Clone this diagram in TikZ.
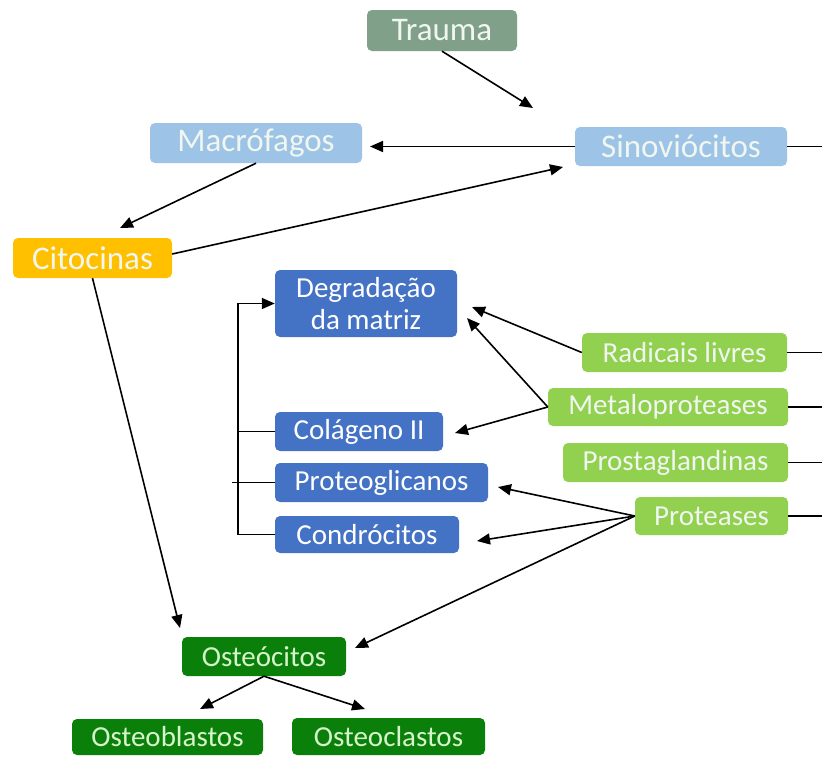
\documentclass[tikz,border=0pt]{standalone}
\usepackage{fontspec}
\setmainfont{Carlito}
\usetikzlibrary{arrows.meta,calc}
\definecolor{traumac}{RGB}{128,160,137}
\definecolor{lblue}{RGB}{157,195,230}
\definecolor{orangec}{RGB}{255,192,0}
\definecolor{dblue}{RGB}{68,114,196}
\definecolor{lgreen}{RGB}{146,208,80}
\definecolor{dgreen}{RGB}{10,128,10}
\definecolor{paletext}{RGB}{240,246,240}
\definecolor{palegreentext}{RGB}{215,245,205}
\tikzset{
  box/.style={rectangle, rounded corners=5pt, inner sep=0pt, draw=none, align=center},
  bigtxt/.style={font=\fontsize{33}{35}\selectfont},
  smalltxt/.style={font=\fontsize{29}{32}\selectfont},
  arr/.style={line width=1.6pt, -{Triangle[length=13pt,width=11pt]}},
  ln/.style={line width=1.6pt},
}
\begin{document}
\begin{tikzpicture}[x=1pt,y=-1pt]
\useasboundingbox (0,0) rectangle (822,756);
\fill[white] (0,0) rectangle (822,756);
% nodes
\node[box,bigtxt,fill=traumac,text=paletext,minimum width=150pt,minimum height=41pt] (trauma) at (442,30.5) {Trauma};
\node[box,bigtxt,fill=lblue,text=paletext,minimum width=212pt,minimum height=39pt] (sin) at (681,146.5) {Sinoviócitos};
\node[box,bigtxt,fill=lblue,text=paletext,minimum width=212pt,minimum height=40pt] (mac) at (256,143) {Macrófagos};
\node[box,bigtxt,fill=orangec,text=paletext,minimum width=159pt,minimum height=40pt] (cit) at (92.5,258) {Citocinas};
\node[box,smalltxt,fill=dblue,text=white,minimum width=182pt,minimum height=67pt] (deg) at (366,303.5) {Degradação\\da matriz};
\node[box,smalltxt,fill=dblue,text=white,minimum width=168pt,minimum height=39pt] (col) at (359,431.5) {Colágeno II};
\node[box,smalltxt,fill=dblue,text=white,minimum width=213pt,minimum height=39pt] (ptg) at (381.5,482.5) {Proteoglicanos};
\node[box,smalltxt,fill=dblue,text=white,minimum width=184pt,minimum height=37pt] (cond) at (367,534.5) {Condrócitos};
\node[box,smalltxt,fill=lgreen,text=paletext,minimum width=205pt,minimum height=39pt] (rad) at (684.5,352.5) {Radicais livres};
\node[box,smalltxt,fill=lgreen,text=paletext,minimum width=240pt,minimum height=38pt] (met) at (668,407) {Metaloproteases};
\node[box,smalltxt,fill=lgreen,text=paletext,minimum width=225pt,minimum height=39pt] (pros) at (675.5,462.5) {Prostaglandinas};
\node[box,smalltxt,fill=lgreen,text=paletext,minimum width=153pt,minimum height=38pt] (prot) at (711.5,516) {Proteases};
\node[box,smalltxt,fill=dgreen,text=palegreentext,minimum width=164pt,minimum height=39pt] (ost) at (264,656.5) {Osteócitos};
\node[box,smalltxt,fill=dgreen,text=palegreentext,minimum width=191pt,minimum height=36pt] (obl) at (167.5,737) {Osteoblastos};
\node[box,smalltxt,fill=dgreen,text=palegreentext,minimum width=193pt,minimum height=37pt] (ocl) at (388.5,736.5) {Osteoclastos};
% free ends
\coordinate (tr-end) at (533,108);
\coordinate (edge) at (822,0);
\coordinate (mac-in) at (370,146.5);
\coordinate (cit-in) at (120,228);
\coordinate (sin-in) at (563,167);
\coordinate (ost-in1) at (180,628);
\coordinate (ost-in2) at (355,648);
\coordinate (bk) at (238,303.5);
\coordinate (bkl) at (232,0);
\coordinate (deg-in1) at (472,307);
\coordinate (deg-in2) at (467,318);
\coordinate (col-in) at (455,433);
\coordinate (ptg-in) at (498,487);
\coordinate (cond-in) at (477,541);
\coordinate (obl-in) at (200,709);
\coordinate (ocl-in) at (365,709);
% connectors
\draw[arr] (trauma.south) -- (tr-end);
\draw[arr] (sin.west) -- (mac-in);
\draw[ln] (sin.east) -- (sin.east -| edge);
\draw[arr] (mac.south) -- (cit-in);
\draw[arr] ([yshift=4pt]cit.east) -- (sin-in);
\draw[arr] (cit.south) -- (ost-in1);
\draw[arr] (cond.west) -| (bk) -- (deg.west);
\draw[ln] (col.west) -- (col.west -| bk);
\draw[ln] (ptg.west) -- (ptg.west -| bkl);
\draw[arr] (rad.west) -- (deg-in1);
\draw[arr] (met.west) -- (deg-in2);
\draw[arr] (met.west) -- (col-in);
\draw[arr] (prot.west) -- (ptg-in);
\draw[arr] (prot.west) -- (cond-in);
\draw[arr] (prot.west) -- (ost-in2);
\draw[ln] (rad.east) -- (rad.east -| edge);
\draw[ln] (met.east) -- (met.east -| edge);
\draw[ln] (pros.east) -- (pros.east -| edge);
\draw[ln] (prot.east) -- (prot.east -| edge);
\draw[arr] (ost.south) -- (obl-in);
\draw[arr] (ost.south) -- (ocl-in);
\end{tikzpicture}
\end{document}
